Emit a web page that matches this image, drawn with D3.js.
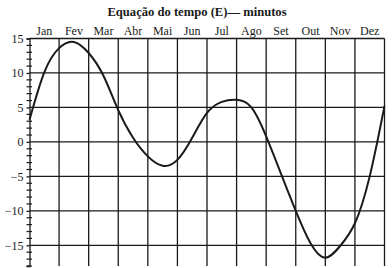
<!DOCTYPE html>
<html><head><meta charset="utf-8">
<script src="https://cdn.jsdelivr.net/npm/d3@7"></script>
<style>body{margin:0;background:#fff}svg{display:block}</style>
</head><body><svg id="c" width="392" height="268"></svg>
<script>
const title = "Equação do tempo (E)— minutos";
const monthLabels = ["Jan","Fev","Mar","Abr","Mai","Jun","Jul","Ago","Set","Out","Nov","Dez"];
const yTickValues = [15,10,5,0,-5,-10,-15];
// curve points: position in months from 1 Jan (half-month steps), and E in minutes
const curveMonths = [0,0.5,1,1.5,2,2.5,3,3.5,4,4.5,5,5.5,6,6.5,7,7.5,8,8.5,9,9.5,10,10.5,11,11.5,12];
const curveValues = [3.2,10.1,13.6,14.5,12.9,9.6,4.6,0.6,-2.1,-3.45,-2.6,0.6,4.2,5.8,6.1,5.0,0.8,-4.6,-10,-14.7,-16.8,-15.1,-11.8,-5,5.2];

const svg = d3.select("#c");
const x = d3.scaleLinear().domain([0,12]).range([29.5,384.5]);
const y = d3.scaleLinear().domain([15,-18]).range([38.5,266]);
const font = "'Liberation Serif', serif";
const ink = "#1a1a1a";

svg.append("text").attr("x",197).attr("y",15.5).attr("text-anchor","middle")
  .attr("font-family",font).attr("font-weight","bold").attr("font-size",12.6).attr("fill",ink).text(title);

// vertical grid lines (month boundaries)
svg.append("g").selectAll("line").data(d3.range(1,13)).join("line")
  .attr("x1",d=>x(d)).attr("x2",d=>x(d)).attr("y1",y(15)).attr("y2",y(-18))
  .attr("stroke",ink).attr("stroke-width",1.3);
// horizontal grid lines
svg.append("g").selectAll("line").data(yTickValues).join("line")
  .attr("x1",x(0)).attr("x2",x(12)).attr("y1",d=>y(d)).attr("y2",d=>y(d))
  .attr("stroke",ink).attr("stroke-width",1.3);

// left axis with minor ticks crossing the line
const axis = d3.axisLeft(y).tickValues(yTickValues).tickSize(3).tickPadding(3).tickFormat(d3.format("d"));
const ga = svg.append("g").attr("transform",`translate(${x(0)},0)`).call(axis);
ga.select(".domain").attr("stroke",ink).attr("stroke-width",1.3);
ga.selectAll(".tick line").attr("stroke",ink).attr("stroke-width",1.3);
ga.selectAll(".tick text").attr("font-family",font).attr("font-size",12).attr("fill",ink);
const minor = d3.range(-18,16).filter(v=>v%5!==0);
svg.append("g").selectAll("line").data(minor).join("line")
  .attr("x1",x(0)-3).attr("x2",x(0)+2.5).attr("y1",d=>y(d)).attr("y2",d=>y(d))
  .attr("stroke",ink).attr("stroke-width",1.2);

// month labels centered in columns
const xm = d3.scaleBand().domain(monthLabels).range([x(0),x(12)]);
svg.append("g").selectAll("text").data(monthLabels).join("text")
  .attr("x",d=>xm(d)+xm.bandwidth()/2).attr("y",34.5).attr("text-anchor","middle")
  .attr("font-family",font).attr("font-size",12).attr("fill",ink).text(d=>d);

// curve
const pts = curveMonths.map((m,i)=>[m,curveValues[i]]);
svg.append("path").datum(pts)
  .attr("d",d3.line().x(d=>x(d[0])).y(d=>y(d[1])).curve(d3.curveNatural))
  .attr("fill","none").attr("stroke",ink).attr("stroke-width",2);
</script></body></html>
